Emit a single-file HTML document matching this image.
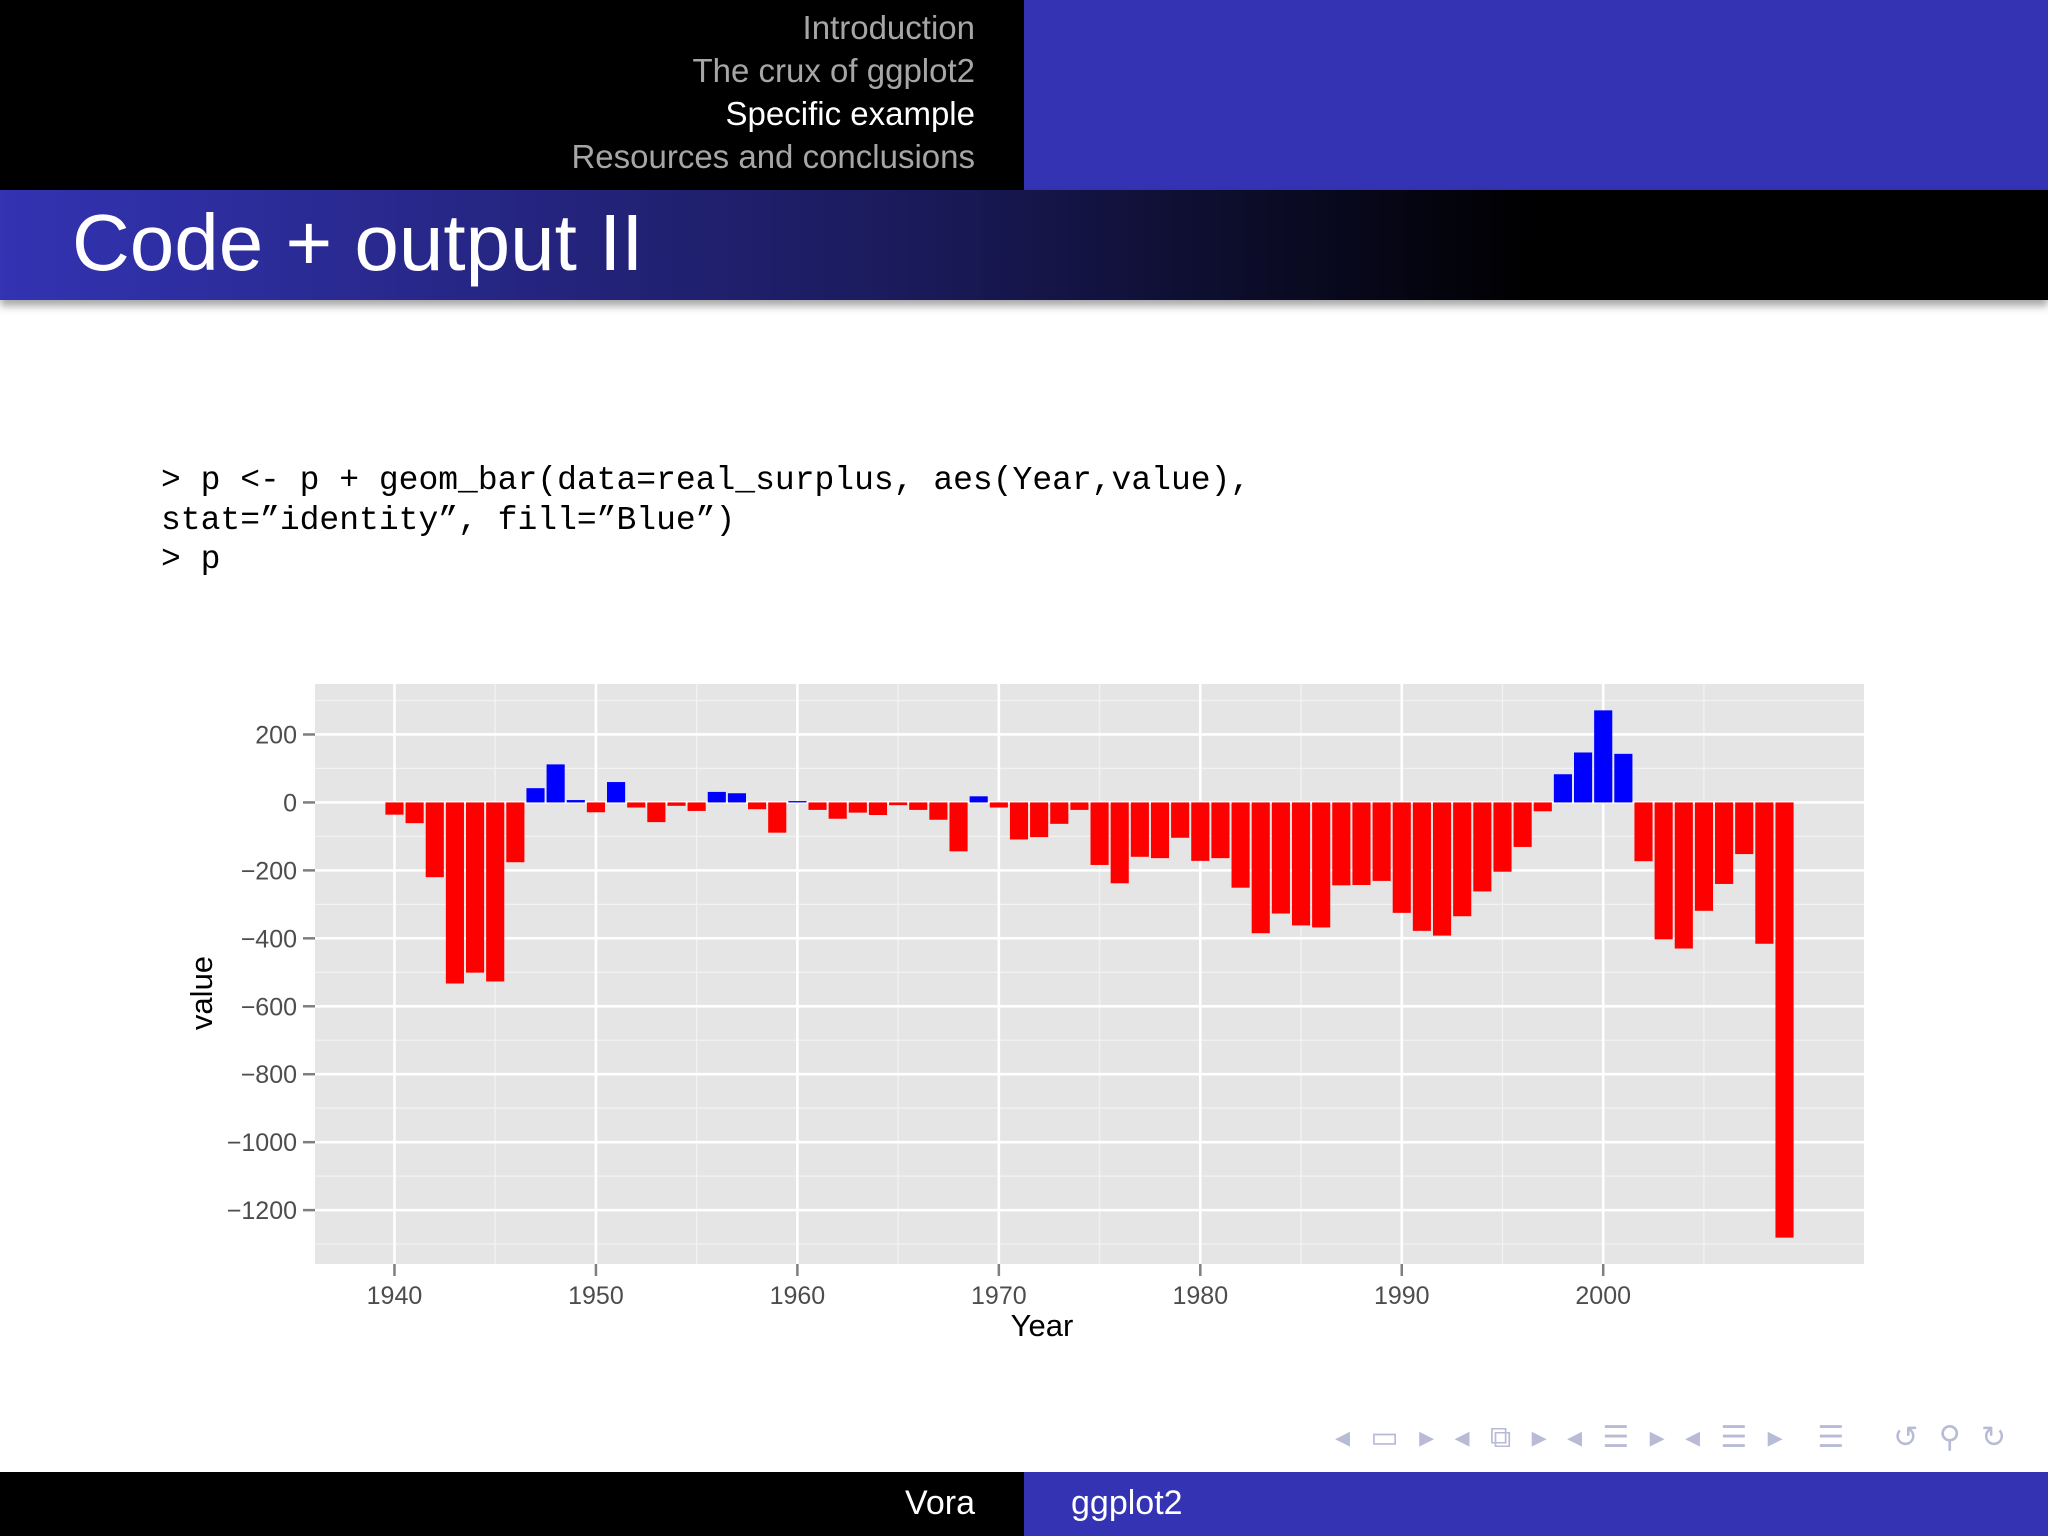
<!DOCTYPE html>
<html><head><meta charset="utf-8">
<style>
html,body{margin:0;padding:0;width:2048px;height:1536px;overflow:hidden;background:#fff;font-family:"Liberation Sans",sans-serif;}
.abs{position:absolute;}
</style></head>
<body>
<div class="abs" style="left:0;top:0;width:1024px;height:190px;background:#000;"></div>
<div class="abs" style="left:1024px;top:0;width:1024px;height:190px;background:#3333b3;"></div>
<div class="abs" style="left:0;top:6px;width:975px;text-align:right;font-size:33px;line-height:43px;color:#a6a6a6;">
<div>Introduction</div>
<div>The crux of ggplot2</div>
<div style="color:#fff;">Specific example</div>
<div>Resources and conclusions</div>
</div>
<div class="abs" style="left:0;top:190px;width:2048px;height:110px;background:linear-gradient(to right,#3333b3 0%,#1a1a5a 45%,#000 75%);box-shadow:0 6px 8px rgba(0,0,0,0.35);"></div>
<div class="abs" style="left:72px;top:195px;font-size:80px;line-height:96px;color:#fff;">Code + output II</div>
<pre class="abs" style="left:161px;top:461px;margin:0;font-family:'Liberation Mono',monospace;font-size:33px;line-height:39.5px;color:#000;">&gt; p &lt;- p + geom_bar(data=real_surplus, aes(Year,value),
stat=”identity”, fill=”Blue”)
&gt; p</pre>
<svg class="abs" id="chart" style="left:0;top:0;" width="2048" height="1536"></svg>
<div class="abs" style="left:1335px;top:1420px;font-size:30px;color:#b8bbd6;letter-spacing:6px;">◂ ▭ ▸ ◂ ⧉ ▸ ◂ ☰ ▸ ◂ ☰ ▸ &nbsp;☰ &nbsp; ↺ ⚲ ↻</div>
<div class="abs" style="left:0;top:1472px;width:1024px;height:64px;background:#000;"></div>
<div class="abs" style="left:1024px;top:1472px;width:1024px;height:64px;background:#3333b3;"></div>
<div class="abs" style="left:0;top:1484px;width:975px;text-align:right;font-size:34px;color:#fff;">Vora</div>
<div class="abs" style="left:1071px;top:1484px;font-size:34px;color:#fff;">ggplot2</div>
<script>
const years=[];for(let y=1940;y<=2009;y++)years.push(y);
const values=[-36,-61,-220,-533,-501,-527,-176,42,112,7,-29,60,-15,-58,-10,-25,31,27,-20,-89,4,-22,-48,-30,-37,-8,-22,-51,-144,18,-15,-109,-102,-63,-22,-184,-238,-160,-164,-104,-172,-164,-251,-385,-327,-362,-368,-244,-243,-231,-325,-378,-392,-335,-262,-204,-131,-26,83,147,271,143,-173,-403,-430,-319,-240,-152,-416,-1281];
const yTicks=[200,0,-200,-400,-600,-800,-1000,-1200];
const yTickLabels=["200","0","\u2212200","\u2212400","\u2212600","\u2212800","\u22121000","\u22121200"];
const yMinor=[300,100,-100,-300,-500,-700,-900,-1100,-1300];
const xTicks=[1940,1950,1960,1970,1980,1990,2000];
const xMinor=[1945,1955,1965,1975,1985,1995,2005];
const NS="http://www.w3.org/2000/svg";
const svg=document.getElementById('chart');
const PL=315,PR=1864,PT=684,PB=1264;
const vmin=Math.min(...values),vmax=Math.max(...values),vs=(vmax-vmin)*0.05;
const yMax=vmax+vs,yMin=vmin-vs;
const xs=(years[years.length-1]-years[0]+0.9)*0.05;
const xMin=years[0]-0.45-xs,xMax=years[years.length-1]+0.45+xs;
const X=v=>PL+(v-xMin)/(xMax-xMin)*(PR-PL);
const Y=v=>PT+(yMax-v)/(yMax-yMin)*(PB-PT);
function mk(t,a){const e=document.createElementNS(NS,t);for(const k in a)e.setAttribute(k,a[k]);svg.appendChild(e);return e;}
let e=mk('rect',{x:PL,y:PT,width:PR-PL,height:PB-PT,fill:'#e5e5e5'});


yMinor.forEach(v=>{if(v<yMax&&v>yMin){const l=mk('line',{x1:PL,x2:PR,y1:Y(v),y2:Y(v),stroke:'#f2f2f2','stroke-width':1.3});

}});
xMinor.forEach(v=>{const l=mk('line',{x1:X(v),x2:X(v),y1:PT,y2:PB,stroke:'#f2f2f2','stroke-width':1.3});

});
yTicks.forEach((v,i)=>{const l=mk('line',{x1:PL,x2:PR,y1:Y(v),y2:Y(v),stroke:'#fff','stroke-width':2.6});


const tk=mk('line',{x1:PL-12,x2:PL,y1:Y(v),y2:Y(v),stroke:'#7f7f7f','stroke-width':2.5});


const t=mk('text',{x:PL-18,y:Y(v)+9,'text-anchor':'end','font-size':25,fill:'#4d4d4d','font-family':'Liberation Sans, sans-serif'});
t.textContent=yTickLabels[i];

});
xTicks.forEach(v=>{const l=mk('line',{x1:X(v),x2:X(v),y1:PT,y2:PB,stroke:'#fff','stroke-width':2.6});


const tk=mk('line',{x1:X(v),x2:X(v),y1:PB,y2:PB+12,stroke:'#7f7f7f','stroke-width':2.5});


const t=mk('text',{x:X(v),y:PB+40,'text-anchor':'middle','font-size':25,fill:'#4d4d4d','font-family':'Liberation Sans, sans-serif'});
t.textContent=String(v);

});
years.forEach((yr,i)=>{const v=values[i];const x0=X(yr-0.45),x1=X(yr+0.45);
const y0=Y(Math.max(v,0)),y1=Y(Math.min(v,0));
const r=mk('rect',{x:x0,y:y0,width:x1-x0,height:Math.max(y1-y0,1),fill:v>=0?'#0000ff':'#ff0000'});

});
e=mk('text',{x:1042,y:1336,'text-anchor':'middle','font-size':31,fill:'#000','font-family':'Liberation Sans, sans-serif'});
e.textContent='Year';


e=mk('text',{x:212,y:993,'text-anchor':'middle','font-size':31,fill:'#000','font-family':'Liberation Sans, sans-serif',transform:'rotate(-90 212 993)'});
e.textContent='value';


</script>
</body></html>
